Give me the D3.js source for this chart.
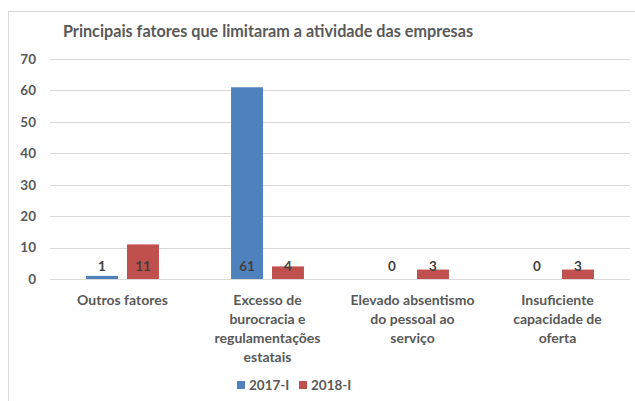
<!DOCTYPE html>
<html><head><meta charset="utf-8">
<script src="https://cdn.jsdelivr.net/npm/d3@7"></script>
<style>
body{margin:0;background:#fff;}
svg{display:block;font-family:Lato,"Open Sans",sans-serif;}
</style></head>
<body>
<script>
const title = "Principais fatores que limitaram a atividade das empresas";
const categories = [
  ["Outros fatores"],
  ["Excesso de","burocracia e","regulamentações","estatais"],
  ["Elevado absentismo","do pessoal ao","serviço"],
  ["Insuficiente","capacidade de","oferta"]
];
const seriesNames = ["2017-I","2018-I"];
const series2017 = [1, 61, 0, 0];
const series2018 = [11, 4, 3, 3];
const yTicks = [0,10,20,30,40,50,60,70];
const colors = ["#4F81BD","#C0504D"];

const W = 635, H = 401;
const svg = d3.select("body").append("svg").attr("width",W).attr("height",H);

// frame
svg.append("rect").attr("x",8.5).attr("y",11.5).attr("width",W).attr("height",H)
  .attr("fill","#fff").attr("stroke","#d9d9d9").attr("stroke-width",1);

const x = d3.scaleBand().domain(d3.range(categories.length)).range([50,630]);
const y = d3.scaleLinear().domain([0,70]).range([279,59]);
const inner = d3.scaleBand().domain([0,1]).range([0, x.bandwidth()]).paddingInner(0.22).paddingOuter(0.88);

// gridlines
svg.append("g").selectAll("line").data(yTicks).join("line")
  .attr("x1",50).attr("x2",630)
  .attr("y1",d=>Math.round(y(d))+0.5).attr("y2",d=>Math.round(y(d))+0.5)
  .attr("stroke","#d9d9d9").attr("stroke-width",1);

// y axis labels
const yAxis = d3.axisLeft(y).tickValues(yTicks).tickSize(0).tickPadding(0);
const yg = svg.append("g").attr("transform","translate(36,0)").call(yAxis);
yg.select(".domain").remove();
yg.selectAll("text").attr("font-family","Lato").attr("font-weight","bold")
  .attr("font-size",13.5).attr("fill","#595959");

// bars
const data = [series2017, series2018];
data.forEach((vals,si)=>{
  svg.append("g").selectAll("rect").data(vals).join("rect")
    .attr("x",(d,i)=>x(i)+inner(si))
    .attr("width",inner.bandwidth())
    .attr("y",d=>y(d))
    .attr("height",d=>y(0)-y(d))
    .attr("fill",colors[si]);
  svg.append("g").selectAll("text").data(vals).join("text")
    .attr("x",(d,i)=>x(i)+inner(si)+inner.bandwidth()/2)
    .attr("y",y(0)-8)
    .attr("text-anchor","middle")
    .attr("font-weight","bold").attr("font-size",13.5).attr("fill","#404040")
    .text(d=>d);
});

// category labels
const xAxis = svg.append("g");
categories.forEach((lines,i)=>{
  const t = xAxis.append("text").attr("text-anchor","middle")
    .attr("font-weight","bold").attr("font-size",14).attr("fill","#595959");
  lines.forEach((ln,j)=>{
    t.append("tspan").attr("x",x(i)+x.bandwidth()/2).attr("y",305+j*19).text(ln);
  });
});

// title
svg.append("text").attr("x",268).attr("y",37).attr("text-anchor","middle")
  .attr("font-weight","bold").attr("font-size",16.2).attr("fill","#595959").text(title);

// legend
const legend = svg.append("g");
const legX = [237, 299];
seriesNames.forEach((n,i)=>{
  legend.append("rect").attr("x",legX[i]).attr("y",381).attr("width",8).attr("height",8).attr("fill",colors[i]);
  legend.append("text").attr("x",legX[i]+12).attr("y",390)
    .attr("font-weight","bold").attr("font-size",13.5).attr("fill","#595959").text(n);
});
</script>
</body></html>
